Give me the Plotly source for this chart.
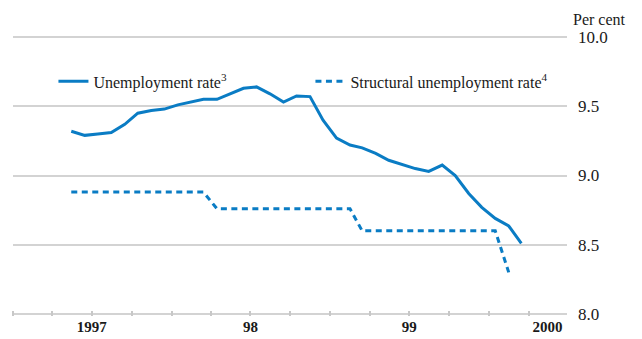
import plotly.graph_objects as go

# Monthly observations, May 1997 - March 2000 (mid-month)
months = [f"{y}-{m:02d}-15" for y in range(1997, 2001) for m in range(1, 13)]
months = months[4:4 + 35]

unemployment = [9.32, 9.29, 9.30, 9.31, 9.37, 9.45, 9.47, 9.48,
                9.51, 9.53, 9.55, 9.55, 9.59, 9.63, 9.64, 9.59, 9.53, 9.575, 9.57, 9.40,
                9.27, 9.22, 9.20, 9.16, 9.11, 9.08, 9.05, 9.03, 9.075, 9.00, 8.87, 8.77,
                8.69, 8.635, 8.51]

structural = [8.88] * 11 + [8.76] * 11 + [8.60] * 11 + [8.30]

year_labels = ["<b>1997</b>", "<b>98</b>", "<b>99</b>", "<b>2000</b>"]
year_label_pos = ["1997-07-01", "1998-07-01", "1999-07-01", "2000-05-14"]
year_starts = ["1998-01-01", "1999-01-01", "2000-01-01"]
y_ticks = [8.0, 8.5, 9.0, 9.5, 10.0]

BLUE = "#0a7cc4"
FONT = "Liberation Serif, Times New Roman, serif"

fig = go.Figure()
fig.add_trace(go.Scatter(x=months, y=unemployment, mode="lines",
                         line=dict(color=BLUE, width=3),
                         name="Unemployment rate<sup>3</sup>"))
fig.add_trace(go.Scatter(x=months[:len(structural)], y=structural, mode="lines",
                         line=dict(color=BLUE, width=3, dash="6px,4.5px"),
                         name="Structural unemployment rate<sup>4</sup>"))

fig.update_layout(
    width=642, height=339,
    margin=dict(l=13, r=75, t=35, b=23, autoexpand=False),
    paper_bgcolor="white", plot_bgcolor="white",
    font=dict(family=FONT, color="#1a1a1a", size=15),
    showlegend=True,
    legend=dict(orientation="h", x=0.073, xanchor="left", y=0.835, yanchor="middle",
                bgcolor="rgba(0,0,0,0)", font=dict(family=FONT, size=16, color="#1a1a1a"),
                entrywidth=212, entrywidthmode="pixels", traceorder="normal"),
    xaxis=dict(type="date", range=["1997-01-01", "2000-06-28"], automargin=False,
               tickmode="array", tickvals=year_label_pos, ticktext=year_labels,
               ticks="", showgrid=False, showline=False, zeroline=False,
               tickfont=dict(family=FONT, size=15, color="#1a1a1a"),
               minor=dict(tickmode="linear", tick0="1997-01-01", dtick="M3",
                          ticks="inside", ticklen=5, tickwidth=1.5, tickcolor="#c8c8c8",
                          showgrid=False)),
    xaxis2=dict(type="date", overlaying="x", matches="x", anchor="y", automargin=False,
                tickmode="array", tickvals=year_starts, ticks="inside", ticklen=7,
                tickwidth=1.5, tickcolor="#c8c8c8", showticklabels=False,
                showgrid=False, showline=False, zeroline=False),
    yaxis=dict(side="right", range=[7.985, 10.015], tickmode="array",
               tickvals=y_ticks, ticktext=[f"{v:.1f}" for v in y_ticks],
               automargin=False,
               showgrid=True, gridcolor="#d3d3d3", gridwidth=2,
               zeroline=False, showline=False, ticks="", ticklabelstandoff=10,
               tickfont=dict(family=FONT, size=17, color="#1a1a1a")),
    annotations=[dict(text="Per cent", xref="paper", yref="paper", x=1, y=1,
                      xanchor="left", yanchor="bottom", xshift=4, yshift=5,
                      showarrow=False, font=dict(family=FONT, size=16, color="#1a1a1a"))],
)

fig.write_html("out.html", config={"displayModeBar": False},
               post_script="document.body.style.margin='0';document.body.style.padding='0';")
